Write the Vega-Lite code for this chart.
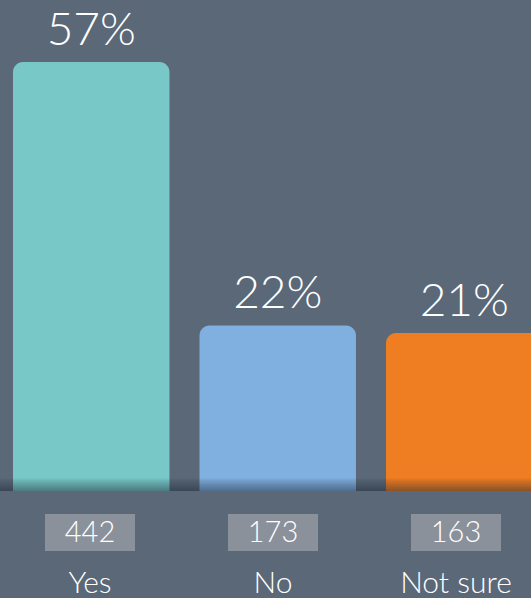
{
  "$schema": "https://vega.github.io/schema/vega-lite/v6.json",
  "width": 531,
  "height": 598,
  "padding": 0,
  "autosize": {"type": "none"},
  "background": "#5a6878",
  "config": {"view": {"stroke": null}, "font": "Lato"},
  "data": {"values": [
    {"answer": "Yes", "percent": 57, "count": 442},
    {"answer": "No", "percent": 22, "count": 173},
    {"answer": "Not sure", "percent": 21, "count": 163}
  ]},
  "resolve": {"scale": {"x": "independent", "color": "independent"}},
  "layer": [
    {
      "layer": [
        {
          "mark": {"type": "bar", "cornerRadiusTopLeft": 10, "cornerRadiusTopRight": 10},
          "encoding": {
            "y": {"field": "percent", "type": "quantitative"},
            "y2": {"datum": 0},
            "color": {"field": "answer", "type": "nominal", "sort": null, "legend": null,
                      "scale": {"domain": ["Yes", "No", "Not sure"], "range": ["#78c8c8", "#80b0e0", "#ef7d22"]}}
          }
        },
        {
          "transform": [{"calculate": "datum.percent + '%'", "as": "plabel"}],
          "mark": {"type": "text", "fontSize": 46, "fontWeight": 300, "color": "white", "baseline": "alphabetic", "dy": -17},
          "encoding": {
            "y": {"field": "percent", "type": "quantitative"},
            "text": {"field": "plabel", "type": "nominal"}
          }
        }
      ],
      "encoding": {
        "x": {"field": "answer", "type": "nominal", "sort": null, "axis": null,
              "scale": {"range": [13, 542.5], "paddingInner": 0.161, "paddingOuter": 0}}
      }
    },
    {
      "mark": {"type": "rect", "color": {"gradient": "linear", "x1": 0, "y1": 0, "x2": 0, "y2": 1,
                "stops": [{"offset": 0, "color": "rgba(0,0,0,0)"}, {"offset": 0.4, "color": "rgba(20,30,45,0.07)"}, {"offset": 1, "color": "rgba(20,30,45,0.18)"}]}},
      "encoding": {
        "y": {"datum": 1.75, "type": "quantitative"},
        "y2": {"datum": 0}
      }
    },
    {
      "layer": [
        {
          "mark": {"type": "bar", "width": 90, "color": "#8a919b"},
          "encoding": {
            "y": {"datum": -3.06, "type": "quantitative"},
            "y2": {"datum": -7.97}
          }
        },
        {
          "mark": {"type": "text", "fontSize": 29, "fontWeight": 300, "color": "white", "baseline": "middle", "dy": 1},
          "encoding": {
            "y": {"datum": -5.5, "type": "quantitative"},
            "text": {"field": "count", "type": "quantitative"}
          }
        },
        {
          "mark": {"type": "text", "fontSize": 30, "fontWeight": 300, "color": "white", "baseline": "alphabetic"},
          "encoding": {
            "y": {"datum": -13.6, "type": "quantitative"},
            "text": {"field": "answer", "type": "nominal"}
          }
        }
      ],
      "encoding": {
        "x": {"field": "answer", "type": "nominal", "sort": null, "axis": null,
              "scale": {"type": "point", "range": [90, 456], "padding": 0}}
      }
    }
  ],
  "encoding": {
    "y": {"type": "quantitative", "axis": null,
          "scale": {"domain": [-14.22, 65.24], "nice": false, "zero": false}}
  }
}
